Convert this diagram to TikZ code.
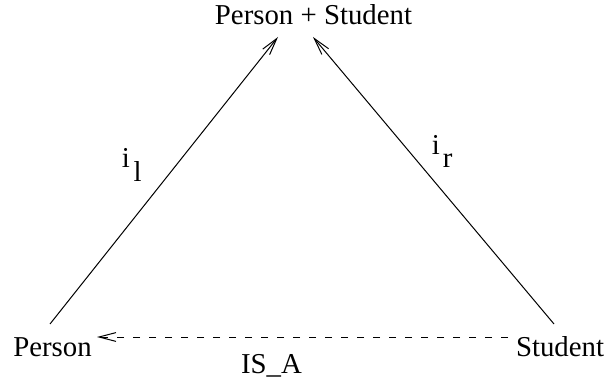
\documentclass[tikz,border=0pt]{standalone}
\usepackage{fontspec}
\setmainfont{Liberation Serif}
\usetikzlibrary{arrows.meta}
\begin{document}
\begin{tikzpicture}[x=0.5pt,y=-0.5pt,
  txt/.style={inner sep=0pt,anchor=base,font=\fontsize{14.4pt}{17pt}\selectfont},
  lbl/.style={inner sep=0pt,anchor=base west,font=\fontsize{14.4pt}{17pt}\selectfont},
  conn/.style={line width=0.5pt,-{Straight Barb[length=8.5pt,width=4.4pt,line width=0.5pt]}}]
\useasboundingbox (0,0) rectangle (605,379);
\node[txt] (top) at (313.5,25) {Person + Student};
\node[txt] (person) at (52.5,357) {Person};
\node[txt] (student) at (560,357) {Student};
\node[txt] (isa) at (271.5,373) {IS\_A};
\node[lbl] (il) at (121.5,168) {i\hspace{1.8pt}\raisebox{-7pt}{l}};
\node[lbl] (ir) at (431.5,155) {i\hspace{1.5pt}\raisebox{-6.5pt}{r}};
\coordinate (pl) at (50,324);
\coordinate (tl) at (278,37);
\coordinate (sr) at (554,324);
\coordinate (tr) at (313,37);
\coordinate (pr) at (97,337);
\coordinate (sl) at (508,337);
\draw[conn] (pl) -- (tl);
\draw[conn] (sr) -- (tr);
\draw[conn,dash pattern=on 3.5pt off 4.5pt] (sl) -- (pr);
\end{tikzpicture}
\end{document}
